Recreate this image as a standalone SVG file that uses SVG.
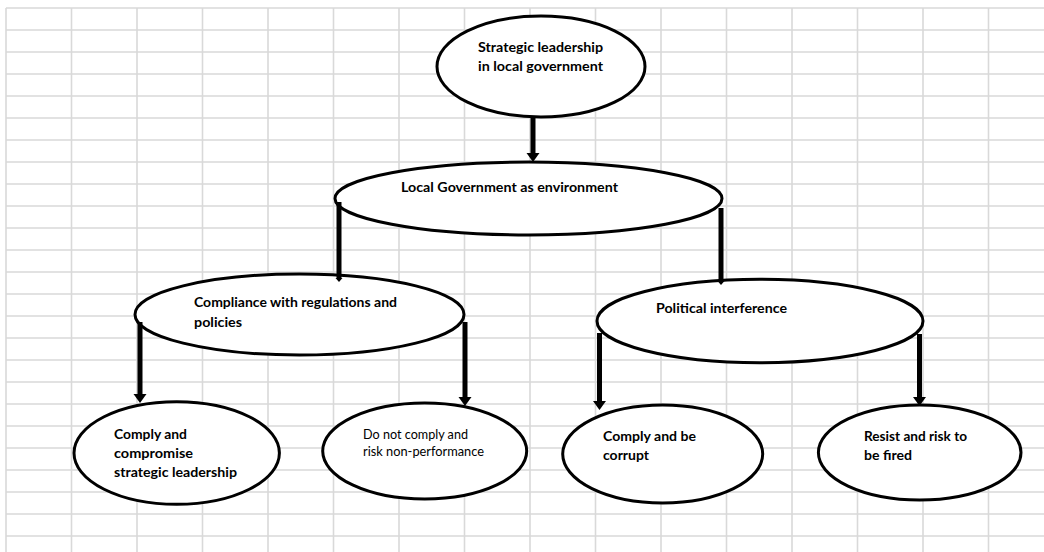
<svg xmlns="http://www.w3.org/2000/svg" width="1044" height="552" viewBox="0 0 1044 552">
<style>
.grid line{stroke:#d9d9d9;stroke-width:1.6}
.node ellipse{fill:#ffffff;stroke:#000000;stroke-width:3}
.t{font-family:Lato,"Liberation Sans",sans-serif;font-size:14px;font-weight:bold;fill:#000000}
.r{font-family:Lato,"Liberation Sans",sans-serif;font-size:12.5px;font-weight:normal;fill:#000000}
.conn line{stroke:#000000;stroke-width:5}
</style>
<defs>
<marker id="ah" markerUnits="userSpaceOnUse" markerWidth="14" markerHeight="14" refX="0" refY="7" orient="auto" viewBox="0 0 14 14">
<path d="M0,0.5 L9,7 L0,13.5 Z" fill="#000000"/>
</marker>
<marker id="ahs" markerUnits="userSpaceOnUse" markerWidth="8" markerHeight="8" refX="0" refY="4" orient="auto" viewBox="0 0 8 8">
<path d="M0,0.5 L4,4 L0,7.5 Z" fill="#000000"/>
</marker>
</defs>
<rect x="0" y="0" width="1044" height="552" fill="#ffffff"/>
<g class="grid">
<line x1="6" y1="8" x2="6" y2="552"/>
<line x1="71.5" y1="8" x2="71.5" y2="552"/>
<line x1="137" y1="8" x2="137" y2="552"/>
<line x1="202.5" y1="8" x2="202.5" y2="552"/>
<line x1="268" y1="8" x2="268" y2="552"/>
<line x1="333.5" y1="8" x2="333.5" y2="552"/>
<line x1="399" y1="8" x2="399" y2="552"/>
<line x1="464.5" y1="8" x2="464.5" y2="552"/>
<line x1="530" y1="8" x2="530" y2="552"/>
<line x1="595.5" y1="8" x2="595.5" y2="552"/>
<line x1="661" y1="8" x2="661" y2="552"/>
<line x1="726.5" y1="8" x2="726.5" y2="552"/>
<line x1="792" y1="8" x2="792" y2="552"/>
<line x1="857.5" y1="8" x2="857.5" y2="552"/>
<line x1="923" y1="8" x2="923" y2="552"/>
<line x1="988.5" y1="8" x2="988.5" y2="552"/>
<line x1="6" y1="8" x2="1044" y2="8"/>
<line x1="6" y1="30" x2="1044" y2="30"/>
<line x1="6" y1="52" x2="1044" y2="52"/>
<line x1="6" y1="74" x2="1044" y2="74"/>
<line x1="6" y1="96" x2="1044" y2="96"/>
<line x1="6" y1="118" x2="1044" y2="118"/>
<line x1="6" y1="140" x2="1044" y2="140"/>
<line x1="6" y1="162" x2="1044" y2="162"/>
<line x1="6" y1="184" x2="1044" y2="184"/>
<line x1="6" y1="206" x2="1044" y2="206"/>
<line x1="6" y1="228" x2="1044" y2="228"/>
<line x1="6" y1="250" x2="1044" y2="250"/>
<line x1="6" y1="272" x2="1044" y2="272"/>
<line x1="6" y1="294" x2="1044" y2="294"/>
<line x1="6" y1="316" x2="1044" y2="316"/>
<line x1="6" y1="338" x2="1044" y2="338"/>
<line x1="6" y1="360" x2="1044" y2="360"/>
<line x1="6" y1="382" x2="1044" y2="382"/>
<line x1="6" y1="404" x2="1044" y2="404"/>
<line x1="6" y1="426" x2="1044" y2="426"/>
<line x1="6" y1="448" x2="1044" y2="448"/>
<line x1="6" y1="470" x2="1044" y2="470"/>
<line x1="6" y1="492" x2="1044" y2="492"/>
<line x1="6" y1="514" x2="1044" y2="514"/>
<line x1="6" y1="536" x2="1044" y2="536"/>
</g>
<g id="n-strategic" class="node">
<ellipse cx="541" cy="66.5" rx="104" ry="50.5"/>
<text class="t" x="478" y="52" textLength="125" lengthAdjust="spacingAndGlyphs">Strategic leadership</text>
<text class="t" x="478" y="71" textLength="125" lengthAdjust="spacingAndGlyphs">in local government</text>
</g>
<g id="n-localgov" class="node">
<ellipse cx="528.5" cy="198.5" rx="193.5" ry="36.5"/>
<text class="t" x="401" y="192" textLength="217" lengthAdjust="spacingAndGlyphs">Local Government as environment</text>
</g>
<g id="n-compliance" class="node">
<ellipse cx="299.5" cy="314.5" rx="164.5" ry="40.5"/>
<text class="t" x="194" y="307" textLength="203" lengthAdjust="spacingAndGlyphs">Compliance with regulations and</text>
<text class="t" x="194" y="327" textLength="48" lengthAdjust="spacingAndGlyphs">policies</text>
</g>
<g id="n-political" class="node">
<ellipse cx="760" cy="321" rx="163" ry="41.7"/>
<text class="t" x="656" y="313" textLength="131" lengthAdjust="spacingAndGlyphs">Political interference</text>
</g>
<g id="n-comply-compromise" class="node">
<ellipse cx="176.7" cy="453" rx="102.7" ry="51.3"/>
<text class="t" x="114" y="439" textLength="73" lengthAdjust="spacingAndGlyphs">Comply and</text>
<text class="t" x="114" y="458" textLength="79" lengthAdjust="spacingAndGlyphs">compromise</text>
<text class="t" x="114" y="477" textLength="123" lengthAdjust="spacingAndGlyphs">strategic leadership</text>
</g>
<g id="n-not-comply" class="node">
<ellipse cx="424.7" cy="451" rx="102" ry="48"/>
<text class="r" x="363" y="438.5" textLength="105" lengthAdjust="spacingAndGlyphs">Do not comply and</text>
<text class="r" x="363" y="455.5" textLength="121" lengthAdjust="spacingAndGlyphs">risk non-performance</text>
</g>
<g id="n-corrupt" class="node">
<ellipse cx="662.7" cy="454" rx="100" ry="49"/>
<text class="t" x="603" y="441" textLength="93" lengthAdjust="spacingAndGlyphs">Comply and be</text>
<text class="t" x="603" y="460" textLength="46" lengthAdjust="spacingAndGlyphs">corrupt</text>
</g>
<g id="n-resist" class="node">
<ellipse cx="919.7" cy="452.5" rx="101.3" ry="47.5"/>
<text class="t" x="864" y="441" textLength="103" lengthAdjust="spacingAndGlyphs">Resist and risk to</text>
<text class="t" x="864" y="460" textLength="48" lengthAdjust="spacingAndGlyphs">be fired</text>
</g>
<g id="connectors" class="conn">
<line x1="533" y1="117" x2="533" y2="153" marker-end="url(#ah)"/>
<line x1="339" y1="202" x2="339" y2="278" marker-end="url(#ahs)"/>
<line x1="721" y1="208" x2="721" y2="281" marker-end="url(#ahs)"/>
<line x1="140" y1="322" x2="140" y2="394" marker-end="url(#ah)"/>
<line x1="465" y1="322" x2="465" y2="397" marker-end="url(#ah)"/>
<line x1="599.5" y1="333" x2="599.5" y2="401" marker-end="url(#ah)"/>
<line x1="919.5" y1="334" x2="919.5" y2="397" marker-end="url(#ah)"/>
</g>
</svg>
